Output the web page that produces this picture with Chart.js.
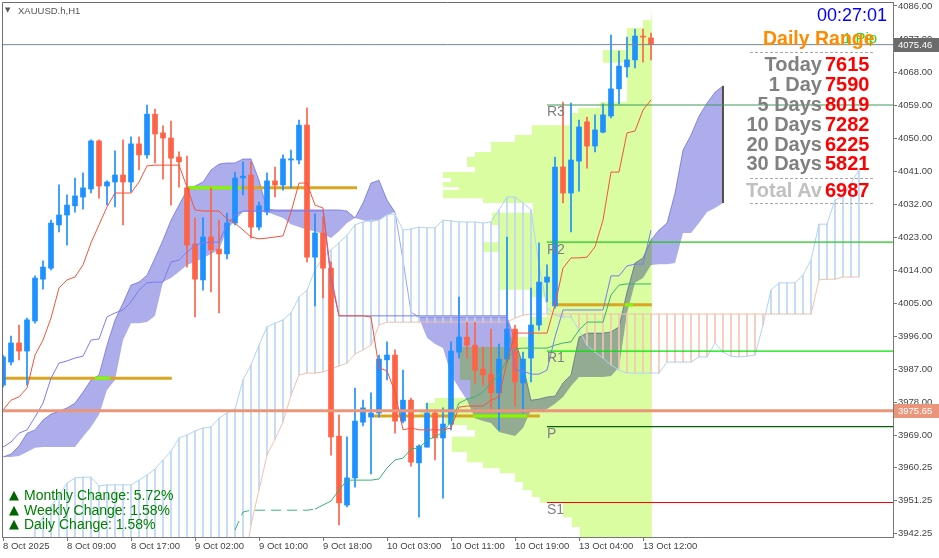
<!DOCTYPE html>
<html lang="en">
<head>
    <meta charset="UTF-8">
    <title>XAUUSD.h,H1</title>
    <script src="https://cdn.jsdelivr.net/npm/chart.js"></script>
    <style>
        body { margin: 0; background: #fff; }
        #wrap { position: relative; width: 939px; height: 558px; overflow: hidden; }
        .lbl { position: absolute; white-space: nowrap; line-height: 1; font-family: "Liberation Sans", Arial, sans-serif; }
        .dash { position: absolute; left: 750px; width: 123px; border-top: 1px dashed #a8a8a8; }
        .row { font-size: 20px; font-weight: bold; }
    </style>
</head>
<body>
<div id="wrap">
    <canvas id="chart" width="939" height="558"></canvas>

    <!-- symbol title -->
    <div class="lbl" style="left:5px;top:7px;font-size:7px;color:#555;font-family:'DejaVu Sans'">▼</div>
    <div class="lbl" style="left:18px;top:6px;font-size:9.5px;color:#555">XAUUSD.h,H1</div>

    <!-- daily range panel -->
    <div class="lbl" style="right:52px;top:6px;font-size:18px;color:#0000ff">00:27:01</div>
    <div class="lbl" style="left:843px;top:30px;font-size:15px;color:#22dd22">1 Pip</div>
    <div class="lbl" style="left:763px;top:29px;font-size:19.5px;font-weight:bold;color:#ff8c00">Daily Range</div>
    <div class="dash" style="top:52px"></div>
    <div id="rangeRows"></div>
    <div class="dash" style="top:178px"></div>
    <div class="dash" style="top:203px"></div>

    <!-- change stats -->
    <div id="changeRows"></div>
</div>

<script>
    // ---- price data (H1 candles, bar index 0 = 8 Oct 2025 00:00) ----
    const opens = [
        3982.6, 3988.9, 3994.1, 3991.9, 4000.1, 4011.5, 4014.5, 4026.3, 4029.0, 4031.5,
        4033.9, 4036.1, 4049.2, 4036.9, 4038.0, 4039.9, 4038.0, 4048.4, 4045.4, 4056.5,
        4051.4, 4050.0, 4044.8, 4036.4, 4021.1, 4011.3, 4023.0, 4019.7, 4018.4, 4026.8,
        4039.1, 4039.9, 4025.7, 4029.8, 4038.3, 4037.2, 4044.0, 4044.0, 4053.5, 4017.5,
        4024.1, 4014.5, 3968.7, 3949.9, 3957.3, 3972.5, 3973.9, 3975.0, 3989.5, 3990.8,
        3972.8, 3978.5, 3961.4, 3965.7, 3975.0, 3968.2, 3972.0, 3991.6, 3995.7, 3993.5,
        3987.0, 3985.6, 3980.5, 3989.7, 3997.9, 3983.2, 3990.0, 3999.0, 4010.7, 4004.2,
        4042.1, 4035.0, 4043.7, 4054.4, 4047.8, 4051.6, 4056.0, 4063.4, 4069.4, 4071.3,
        4077.8, 4077.3
    ];
    const highs = [
        3990.8, 3996.0, 3999.0, 4000.9, 4012.4, 4016.5, 4027.6, 4037.2, 4034.5, 4039.1,
        4040.5, 4049.5, 4049.5, 4038.3, 4046.5, 4049.5, 4050.3, 4050.3, 4059.0, 4057.9,
        4053.3, 4054.6, 4046.2, 4045.1, 4028.2, 4028.2, 4036.4, 4027.6, 4029.5, 4040.7,
        4043.5, 4043.5, 4032.5, 4040.5, 4042.1, 4045.4, 4046.7, 4054.9, 4058.2, 4029.3,
        4028.5, 4016.2, 3974.5, 3968.5, 3981.8, 3978.5, 3980.5, 3990.8, 3994.4, 3992.2,
        3986.7, 3979.1, 3966.3, 3977.7, 3975.8, 3976.4, 3994.4, 4006.6, 3999.8, 3999.8,
        3993.0, 3997.9, 3993.8, 4023.0, 3999.0, 3991.6, 4009.1, 4021.4, 4015.4, 4044.8,
        4059.8, 4059.5, 4054.9, 4055.7, 4056.3, 4059.3, 4078.1, 4073.7, 4077.5, 4079.7,
        4079.7, 4078.6
    ];
    const lows = [
        3982.1, 3988.1, 3989.5, 3982.6, 3999.5, 4008.8, 4014.0, 4024.4, 4020.8, 4029.8,
        4030.6, 4035.0, 4033.6, 4031.7, 4031.2, 4026.3, 4035.3, 4041.3, 4044.5, 4043.2,
        4038.8, 4031.7, 4036.6, 4014.8, 4001.2, 4008.5, 4008.0, 4002.3, 4017.0, 4026.3,
        4034.5, 4022.7, 4024.9, 4029.0, 4033.9, 4035.8, 4036.4, 4042.9, 4016.2, 4004.2,
        4006.4, 3963.5, 3944.5, 3949.4, 3954.8, 3971.5, 3958.4, 3973.9, 3984.0, 3969.5,
        3972.3, 3960.5, 3946.6, 3965.7, 3962.2, 3951.8, 3970.4, 3990.0, 3990.0, 3983.2,
        3982.6, 3975.3, 3970.4, 3988.9, 3976.9, 3975.0, 3983.5, 3997.6, 4005.3, 4003.6,
        4032.3, 4024.4, 4035.5, 4041.8, 4046.2, 4051.4, 4055.5, 4059.3, 4066.6, 4069.1,
        4070.7, 4071.3
    ];
    const closes = [
        3990.3, 3994.1, 3991.9, 4000.4, 4011.8, 4014.8, 4026.8, 4029.0, 4031.7, 4034.2,
        4036.4, 4049.2, 4036.9, 4038.0, 4039.9, 4038.0, 4048.4, 4045.4, 4056.5, 4051.1,
        4050.0, 4044.5, 4043.5, 4020.8, 4011.5, 4023.0, 4019.5, 4018.4, 4026.8, 4039.1,
        4039.6, 4025.7, 4031.5, 4038.3, 4037.2, 4044.3, 4044.3, 4053.5, 4017.5, 4024.1,
        4014.5, 3968.5, 3950.5, 3957.3, 3972.8, 3976.4, 3975.0, 3989.7, 3990.8, 3972.8,
        3978.5, 3961.6, 3966.0, 3975.0, 3968.2, 3972.0, 3991.9, 3995.7, 3993.5, 3986.7,
        3985.4, 3980.5, 3989.7, 3997.9, 3983.5, 3989.7, 3999.0, 4010.7, 4012.1, 4042.1,
        4035.0, 4044.0, 4053.0, 4047.8, 4052.2, 4056.3, 4063.4, 4069.6, 4071.3, 4077.8,
        4077.5, 4075.46
    ];

    // ---- ichimoku lines ----
    const tenkan = [
        3975.8, 3978.5, 3979.4, 3981.8, 3990.8, 3994.9, 4000.9, 4009.1, 4011.3, 4012.1,
        4015.4, 4021.4, 4026.3, 4031.2, 4035.0, 4035.0, 4035.0, 4038.0, 4042.4, 4042.6,
        4042.6, 4042.6, 4042.6, 4036.6, 4030.4, 4030.1, 4030.1, 4030.1, 4027.9, 4026.8,
        4024.9, 4023.0, 4022.5, 4022.7, 4023.0, 4023.3, 4029.8, 4037.7, 4037.7, 4031.7,
        4030.9, 4012.6, 4001.5, 4001.5, 4001.5, 4001.5, 4001.2, 3987.3, 3986.5, 3980.7,
        3970.4, 3970.9, 3970.4, 3970.4, 3970.4, 3970.4, 3970.9, 3976.6, 3976.9, 3976.9,
        3976.9, 3978.5, 3979.4, 3988.9, 3996.8, 3996.8, 3996.8, 3996.8, 3996.8, 4004.5,
        4014.5, 4017.3, 4017.3, 4017.5, 4020.3, 4027.6, 4040.7, 4040.7, 4051.4, 4051.9,
        4057.6, 4060.4
    ];
    const kijun = [
        3965.7, 3967.1, 3969.5, 3970.4, 3973.9, 3977.7, 3984.5, 3988.6, 3989.2, 3990.0,
        3990.5, 3994.9, 3995.2, 4001.2, 4002.3, 4003.1, 4005.3, 4008.5, 4010.5, 4010.7,
        4010.7, 4016.2, 4016.7, 4018.9, 4020.8, 4021.4, 4021.6, 4021.6, 4026.5, 4029.0,
        4030.1, 4030.1, 4030.1, 4030.1, 4030.1, 4030.1, 4030.1, 4030.1, 4030.1, 4030.1,
        4030.1, 4011.0, 4001.5, 4001.5, 4001.5, 4001.5, 4001.5, 4001.5, 4001.5, 4001.5,
        4001.5, 4001.5, 4001.5, 4001.5, 4001.5, 4001.5, 4001.5, 4001.5, 4001.5, 4001.5,
        4001.5, 4001.5, 4001.5, 4001.5, 3986.7, 3986.5, 3985.6, 3985.6, 3986.7, 3995.7,
        4003.1, 4003.1, 4003.1, 4003.1, 4003.1, 4003.1, 4012.4, 4012.4, 4015.1, 4015.6,
        4015.6, 4024.9
    ];
    // kumo edges, bar 0 .. 90
    const cloudHigh = [
        3963.0, 3963.8, 3966.0, 3969.5, 3970.4, 3973.1, 3974.7, 3975.5, 3976.4, 3977.7,
        3980.7, 3984.0, 3985.4, 3993.5, 4000.4, 4005.0, 4009.9, 4010.7, 4012.6, 4017.3,
        4022.2, 4027.6, 4031.7, 4035.8, 4036.9, 4038.0, 4041.3, 4042.9, 4043.2, 4043.2,
        4044.3, 4044.3, 4038.5, 4030.6, 4030.4, 4030.4, 4030.4, 4030.4, 4030.4, 4030.4,
        4030.4, 4030.4, 4030.4, 4030.1, 4028.2, 4032.3, 4037.7, 4038.5, 4033.1, 4029.8,
        4016.7, 4002.5, 4001.2, 4001.2, 4001.2, 4001.2, 4001.2, 4001.2, 4001.2, 4001.2,
        4001.2, 4001.2, 4001.2, 4001.2, 3994.9, 3988.1, 3978.5, 3978.8, 3979.4, 3979.6,
        3983.2, 3985.4, 3995.7, 3996.8, 3996.8, 3996.8, 3997.1, 3998.5, 4008.0, 4015.9,
        4017.3, 4022.2, 4024.9, 4026.8, 4035.0, 4046.7, 4050.8, 4056.0, 4059.5, 4062.5,
        4064.2
    ];
    const cloudLow = [
        3963.0, 3963.0, 3963.3, 3964.4, 3965.5, 3965.7, 3965.7, 3965.7, 3965.7, 3965.7,
        3968.5, 3971.2, 3974.5, 3981.3, 3984.0, 3994.9, 3999.5, 3999.5, 3999.8, 4001.5,
        4010.7, 4011.8, 4013.5, 4015.4, 4016.2, 4017.3, 4018.4, 4019.5, 4024.9, 4027.6,
        4029.8, 4029.8, 4029.8, 4029.8, 4029.0, 4028.2, 4026.5, 4025.7, 4024.9, 4024.6,
        4023.8, 4022.7, 4024.6, 4026.8, 4028.2, 4027.6, 4027.1, 4027.6, 4029.0, 4029.8,
        4016.7, 4002.5, 4000.9, 3995.5, 3993.8, 3992.7, 3985.4, 3981.8, 3978.5, 3973.6,
        3972.8, 3972.3, 3969.8, 3969.3, 3968.7, 3970.9, 3975.8, 3975.5, 3976.1, 3977.5,
        3979.4, 3982.4, 3984.8, 3984.8, 3984.8, 3984.8, 3985.1, 3987.5, 4002.3, 4010.5,
        4011.8, 4015.4, 4015.6, 4015.6, 4015.9, 4024.1, 4024.1, 4026.8, 4029.8, 4030.9,
        4032.3
    ];
    // second (hatched) cloud, bar 4 .. 107
    const hatchStart = 4;
    const spanA2 = [
        3943.6, 3946.6, 3949.6, 3952.6, 3955.9, 3957.3, 3957.5, 3957.5, 3955.1, 3955.4,
        3955.4, 3955.4, 3955.4, 3956.7, 3958.1, 3959.7, 3962.2, 3964.6, 3968.2, 3969.0,
        3970.1, 3970.9, 3971.2, 3973.6, 3975.0, 3976.1, 3984.0, 3988.1, 3993.5, 3998.5,
        3999.5, 4000.4, 4002.3, 4006.6, 4008.5, 4014.0, 4017.3, 4019.5, 4021.4, 4023.5,
        4026.3, 4027.1, 4027.6, 4027.6, 4029.0, 4029.3, 4024.9, 4025.2, 4025.7, 4025.5,
        4025.5, 4027.6, 4027.4, 4027.1, 4027.1, 4027.1, 4026.8, 4027.1, 4030.4, 4033.9,
        4033.9, 4032.3, 4030.4, 4015.4, 4003.9, 4001.7, 4001.2, 4001.2, 3997.6, 3993.5,
        3991.6, 3990.0, 3988.1, 3986.7, 3985.9, 3985.9, 3985.9, 3985.9, 3985.9, 3988.9,
        3988.9, 3988.9, 3988.9, 3990.3, 3990.3, 3994.1, 3991.6, 3990.5, 3990.3, 3990.5,
        3990.8, 3999.0, 4008.5, 4010.5, 4010.5, 4010.5, 4012.6, 4016.7, 4026.5, 4026.5,
        4033.1, 4033.9, 4037.7, 4041.3
    ];
    const spanB2 = [
        3930.0, 3930.0, 3930.0, 3930.0, 3930.0, 3930.0, 3930.0, 3930.0, 3930.0, 3930.0,
        3930.0, 3930.0, 3930.0, 3930.0, 3930.0, 3930.0, 3930.0, 3930.0, 3930.0, 3930.0,
        3930.0, 3930.0, 3930.0, 3930.0, 3930.0, 3930.0, 3930.0, 3944.5, 3954.0, 3963.5,
        3967.9, 3972.5, 3979.9, 3985.4, 3985.9, 3985.9, 3986.2, 3987.0, 3987.8, 3988.6,
        3991.1, 3992.2, 3993.5, 3999.0, 3999.8, 3999.8, 3999.8, 3999.8, 3999.8, 3999.8,
        3999.8, 3999.8, 3999.8, 3999.8, 3999.8, 3999.8, 3999.8, 3999.8, 3999.8, 3999.8,
        4000.9, 4001.7, 4002.0, 4002.0, 4002.0, 4002.0, 4002.0, 4002.0, 4002.0, 4002.0,
        4002.0, 4002.0, 4002.0, 4002.0, 4002.0, 4002.0, 4002.0, 4002.0, 4002.0, 4002.0,
        4002.0, 4002.0, 4002.0, 4002.0, 4002.0, 4002.0, 4002.0, 4002.0, 4002.0, 4002.0,
        4002.0, 4002.0, 4002.0, 4002.0, 4002.0, 4002.0, 4002.0, 4002.0, 4011.3, 4011.5,
        4011.5, 4012.1, 4012.1, 4012.1
    ];
    // green lagging line, bar 29 .. 81
    const chikouStart = 29;
    const chikou = [
        3943.1, 3948.0, 3948.5, 3948.5, 3948.5, 3948.5, 3948.5, 3948.5, 3948.5, 3948.5,
        3948.8, 3949.9, 3951.0, 3954.0, 3956.7, 3956.7, 3956.7, 3956.7, 3957.0, 3960.0,
        3962.2, 3962.7, 3965.2, 3965.5, 3967.6, 3968.5, 3969.8, 3972.6, 3977.7, 3978.8,
        3979.4, 3980.7, 3983.2, 3985.4, 3989.5, 3992.5, 3992.7, 3992.7, 3992.7, 3992.7,
        3993.5, 3994.1, 3994.4, 3997.6, 3999.8, 3999.8, 3999.8, 4007.2, 4009.9, 4010.2,
        4010.2, 4010.2, 4010.2
    ];

    // ---- volume profile rows (top price of each row, left edge in bars) ----
    const profTop = [
        4085.5, 4082.2, 4080.0, 4074.0, 4070.5, 4059.8, 4058.2, 4056.8, 4053.5, 4050.8,
        4048.9, 4046.2, 4044.8, 4042.1, 4040.7, 4039.1, 4038.0, 4036.6, 4035.8, 4033.6,
        4032.3, 4029.6, 4026.3, 4021.6, 4018.9, 4008.6, 4006.6, 4001.2, 3995.7, 3993.0,
        3984.0, 3979.1, 3977.7, 3975.8, 3973.9, 3971.7, 3970.4, 3968.5, 3964.4, 3961.6,
        3960.0, 3958.6, 3956.2, 3954.0, 3952.1, 3950.5, 3946.6, 3943.9
    ];
    const profLeft = [
        81.0, 80.0, 78.0, 75.0, 78.0, 74.6, 71.9, 70.9, 66.1, 64.0,
        61.0, 59.0, 58.0, 59.0, 55.0, 56.0, 55.0, 57.0, 55.0, 60.0,
        66.25, 61.1, 62.0, 60.0, 62.1, 65.9, 68.0, 65.9, 63.4, 57.1,
        58.4, 54.0, 52.75, 52.1, 55.25, 58.0, 59.0, 56.1, 58.0, 60.0,
        62.1, 64.0, 65.0, 66.1, 67.1, 70.0, 71.1, 72.1
    ];
    const profRight = 81.1;
    const profBottom = 3941.0;

    // ---- horizontal levels ----
    const levelPrice = [4036.4, 3984.5, 4004.5, 3974.2];
    const levelFrom = [23.1, 0, 69.25, 45.9];
    const levelTo = [44.25, 21.1, 81.1, 67.1];
    const limeFrom = [23.1, 11.5, 77.75, 58.75];
    const limeTo = [29.75, 13.4, 78.75, 65.5];

    const pivotNames = ['R3', 'R2', 'R1', 'P', 'S1'];
    const pivotValues = [4059.0, 4021.6, 3991.9, 3971.3, 3950.6];
    const pivotColors = ['#3f9a5c', '#22c522', '#00e400', '#006400', '#ff0000'];
    const pivotStart = 68;

    const bidPrice = 4075.46;
    const markPrice = 3975.65;

    // ---- axes ----
    const yTicks = [4086.00, 4077.00, 4068.00, 4059.00, 4050.00, 4041.00, 4032.00, 4023.00, 4014.00,
        4005.00, 3996.00, 3987.00, 3978.00, 3969.00, 3960.25, 3951.25, 3942.25];
    const xTickIdx = [0, 8, 16, 24, 32, 40, 48, 56, 64, 72, 80];
    const xTickLabels = ['8 Oct 2025', '8 Oct 09:00', '8 Oct 17:00', '9 Oct 02:00', '9 Oct 10:00',
        '9 Oct 18:00', '10 Oct 03:00', '10 Oct 11:00', '10 Oct 19:00', '13 Oct 04:00', '13 Oct 12:00'];

    // ---- side panels ----
    const rangeLabels = ['Today', '1 Day', '5 Days', '10 Days', '20 Days', '30 Days', 'Total Av'];
    const rangeValues = ['7615', '7590', '8019', '7282', '6225', '5821', '6987'];
    const changeLabels = ['Monthly Change: 5.72%', 'Weekly Change: 1.58%', 'Daily Change: 1.58%'];

    // build panels
    const rowTops = [54, 74, 94, 114, 134, 153, 180];
    const rr = document.getElementById('rangeRows');
    rangeLabels.forEach((t, k) => {
        const grey = k === rangeLabels.length - 1 ? '#c0c0c0' : '#808080';
        rr.insertAdjacentHTML('beforeend',
            `<div class="lbl row" style="left:600px;width:222px;text-align:right;top:${rowTops[k]}px;color:${grey}">${t}</div>` +
            `<div class="lbl row" style="left:825px;top:${rowTops[k]}px;color:#ff0000">${rangeValues[k]}</div>`);
    });
    const cr = document.getElementById('changeRows');
    changeLabels.forEach((t, k) => {
        const top = 488 + k * 14.5;
        cr.insertAdjacentHTML('beforeend',
            `<div class="lbl" style="left:9px;top:${top}px;font-size:13px;color:#006400;font-family:'DejaVu Sans'">▲</div>` +
            `<div class="lbl" style="left:24px;top:${top}px;font-size:14px;color:#008000">${t}</div>`);
    });

    // ---- datasets ----
    const idx = opens.map((_, i) => i);
    const upColor = '#1e90ff';
    const downColor = '#ff6347';
    const candleColors = idx.map(i => closes[i] >= opens[i] ? upColor : downColor);

    const series = (arr, start) => arr.map((v, k) => ({x: start + k, y: v}));

    const profPts = [{x: profRight, y: profTop[0]}];
    profTop.forEach((top, k) => {
        const next = k + 1 < profTop.length ? profTop[k + 1] : profBottom;
        profPts.push({x: profLeft[k], y: top});
        profPts.push({x: profLeft[k], y: next});
    });
    profPts.push({x: profRight, y: profBottom});

    const hatchBlue = '#b9d6f4';
    const hatchPeach = '#f4c6b4';
    const hatchColors = spanA2.map((a, k) => a >= spanB2[k] ? hatchBlue : hatchPeach);

    function lineDs(data, color, width, order, extra) {
        return Object.assign({
            type: 'line', data, borderColor: color, borderWidth: width,
            pointRadius: 0, fill: false, tension: 0, order
        }, extra || {});
    }

    const lastCloud = cloudHigh.length - 1;
    const datasets = [
        lineDs(profPts, 'rgba(0,0,0,0)', 0, 30, {label: 'profile', fill: 'shape', backgroundColor: '#d9fda0'}),
        lineDs(series(cloudHigh, 0), '#a4a4e6', 1, 28, {label: 'cloudHigh', fill: '+1', backgroundColor: '#adadeb'}),
        lineDs(series(cloudLow, 0), 'rgba(0,0,0,0)', 0, 29, {label: 'cloudLow'}),
        lineDs([{x: lastCloud, y: cloudHigh[lastCloud]}, {x: lastCloud, y: cloudLow[lastCloud]}], '#4d3b2b', 1, 27),
        {
            type: 'bar', label: 'hatch', order: 26, grouped: false, barThickness: 1,
            data: spanA2.map((a, k) => ({x: hatchStart + k, y: [spanB2[k], a]})),
            backgroundColor: hatchColors
        },
        lineDs(series(spanA2, hatchStart), '#b3d2f2', 1, 25),
        lineDs(series(spanB2, hatchStart), '#f2c0ad', 1, 24),
        {
            type: 'bar', label: 'wicks', order: 21, grouped: false, barThickness: 1,
            data: idx.map(i => ({x: i, y: [lows[i], highs[i]]})),
            backgroundColor: candleColors
        },
        {
            type: 'bar', label: 'bodies', order: 20, grouped: false, barThickness: 5, minBarLength: 1,
            data: idx.map(i => ({x: i, y: [opens[i], closes[i]]})),
            backgroundColor: candleColors
        },
        lineDs(series(chikou, chikouStart), '#3cb371', 1, 12, {
            segment: {borderDash: c => c.p0.parsed.x < 39 ? [10, 6] : undefined}
        }),
        lineDs(series(kijun, 0), '#7b7bef', 1, 11),
        lineDs(series(tenkan, 0), '#f5533d', 1, 10),
        lineDs([{x: -1, y: markPrice}, {x: 120, y: markPrice}], '#e9967a', 3, 9),
        lineDs([{x: -1, y: bidPrice}, {x: 120, y: bidPrice}], '#778899', 1, 8)
    ];
    levelPrice.forEach((p, k) => {
        datasets.push(lineDs([{x: levelFrom[k], y: p}, {x: levelTo[k], y: p}], '#daa520', 3, 23));
        datasets.push(lineDs([{x: limeFrom[k], y: p}, {x: limeTo[k], y: p}], '#7cfc00', 3, 22));
    });
    pivotValues.forEach((p, k) => {
        datasets.push(lineDs([{x: pivotStart, y: p}, {x: 120, y: p}], pivotColors[k], 1.2, 13));
    });

    // kumo is multiplied onto the volume profile underneath it
    const blendPlugin = {
        id: 'blend',
        afterDatasetDraw(chart, args) {
            const ds = chart.data.datasets[args.index];
            if (ds.label === 'cloudLow') chart.ctx.globalCompositeOperation = 'multiply';
            if (ds.label === 'cloudHigh') chart.ctx.globalCompositeOperation = 'source-over';
        }
    };

    const overlayPlugin = {
        id: 'overlay',
        afterDraw(chart) {
            const {ctx, chartArea: a, scales: {x, y}} = chart;
            ctx.save();
            ctx.strokeStyle = '#6e6e6e';
            ctx.lineWidth = 1;
            ctx.beginPath();
            ctx.moveTo(a.left + 0.5, a.bottom);
            ctx.lineTo(a.left + 0.5, a.top + 0.5);
            ctx.lineTo(a.right, a.top + 0.5);
            ctx.stroke();

            ctx.font = '14px "Liberation Sans", Arial, sans-serif';
            ctx.fillStyle = '#808080';
            ctx.textAlign = 'left';
            ctx.textBaseline = 'top';
            pivotNames.forEach((n, k) => {
                ctx.fillText(n, x.getPixelForValue(pivotStart), y.getPixelForValue(pivotValues[k]) + 0.5);
            });

            [[bidPrice, '#6b6b6b'], [markPrice, '#e9967a']].forEach(([v, c]) => {
                const py = Math.round(y.getPixelForValue(v));
                ctx.fillStyle = c;
                ctx.fillRect(a.right + 1, py - 7, chart.width - a.right - 1, 14);
                ctx.fillStyle = '#ffffff';
                ctx.font = '9.5px "Liberation Sans", Arial, sans-serif';
                ctx.textBaseline = 'middle';
                ctx.fillText(v.toFixed(2), a.right + 5, py + 0.5);
            });
            ctx.restore();
        }
    };

    Chart.defaults.font.family = '"Liberation Sans", Arial, sans-serif';

    new Chart(document.getElementById('chart'), {
        type: 'bar',
        data: {datasets},
        options: {
            responsive: false,
            devicePixelRatio: 1,
            animation: false,
            layout: {padding: {left: 2, top: 2, right: 0, bottom: 0}},
            plugins: {legend: {display: false}, tooltip: {enabled: false}},
            scales: {
                x: {
                    type: 'linear', min: -0.125, max: 111.25, offset: false,
                    afterBuildTicks: s => { s.ticks = xTickIdx.map(v => ({value: v})); },
                    afterFit: s => { s.height = 21; s.paddingLeft = 0; s.paddingRight = 0; },
                    ticks: {
                        callback: (v, i) => xTickLabels[i], align: 'start', maxRotation: 0,
                        autoSkip: false, padding: 0, color: '#444', font: {size: 9.5}
                    },
                    grid: {drawOnChartArea: false, offset: false, tickLength: 4, color: '#777'},
                    border: {color: '#777'}
                },
                y: {
                    position: 'right', min: 3941.19, max: 4087.09, beginAtZero: false,
                    afterBuildTicks: s => { s.ticks = yTicks.map(v => ({value: v})); },
                    afterFit: s => { s.width = 46; s.paddingTop = 0; s.paddingBottom = 0; },
                    ticks: {
                        callback: v => Number(v).toFixed(2), autoSkip: false, padding: 1,
                        color: '#444', font: {size: 9.5}
                    },
                    grid: {drawOnChartArea: false, tickLength: 4, color: '#777'},
                    border: {color: '#777'}
                }
            }
        },
        plugins: [blendPlugin, overlayPlugin]
    });
</script>
</body>
</html>
